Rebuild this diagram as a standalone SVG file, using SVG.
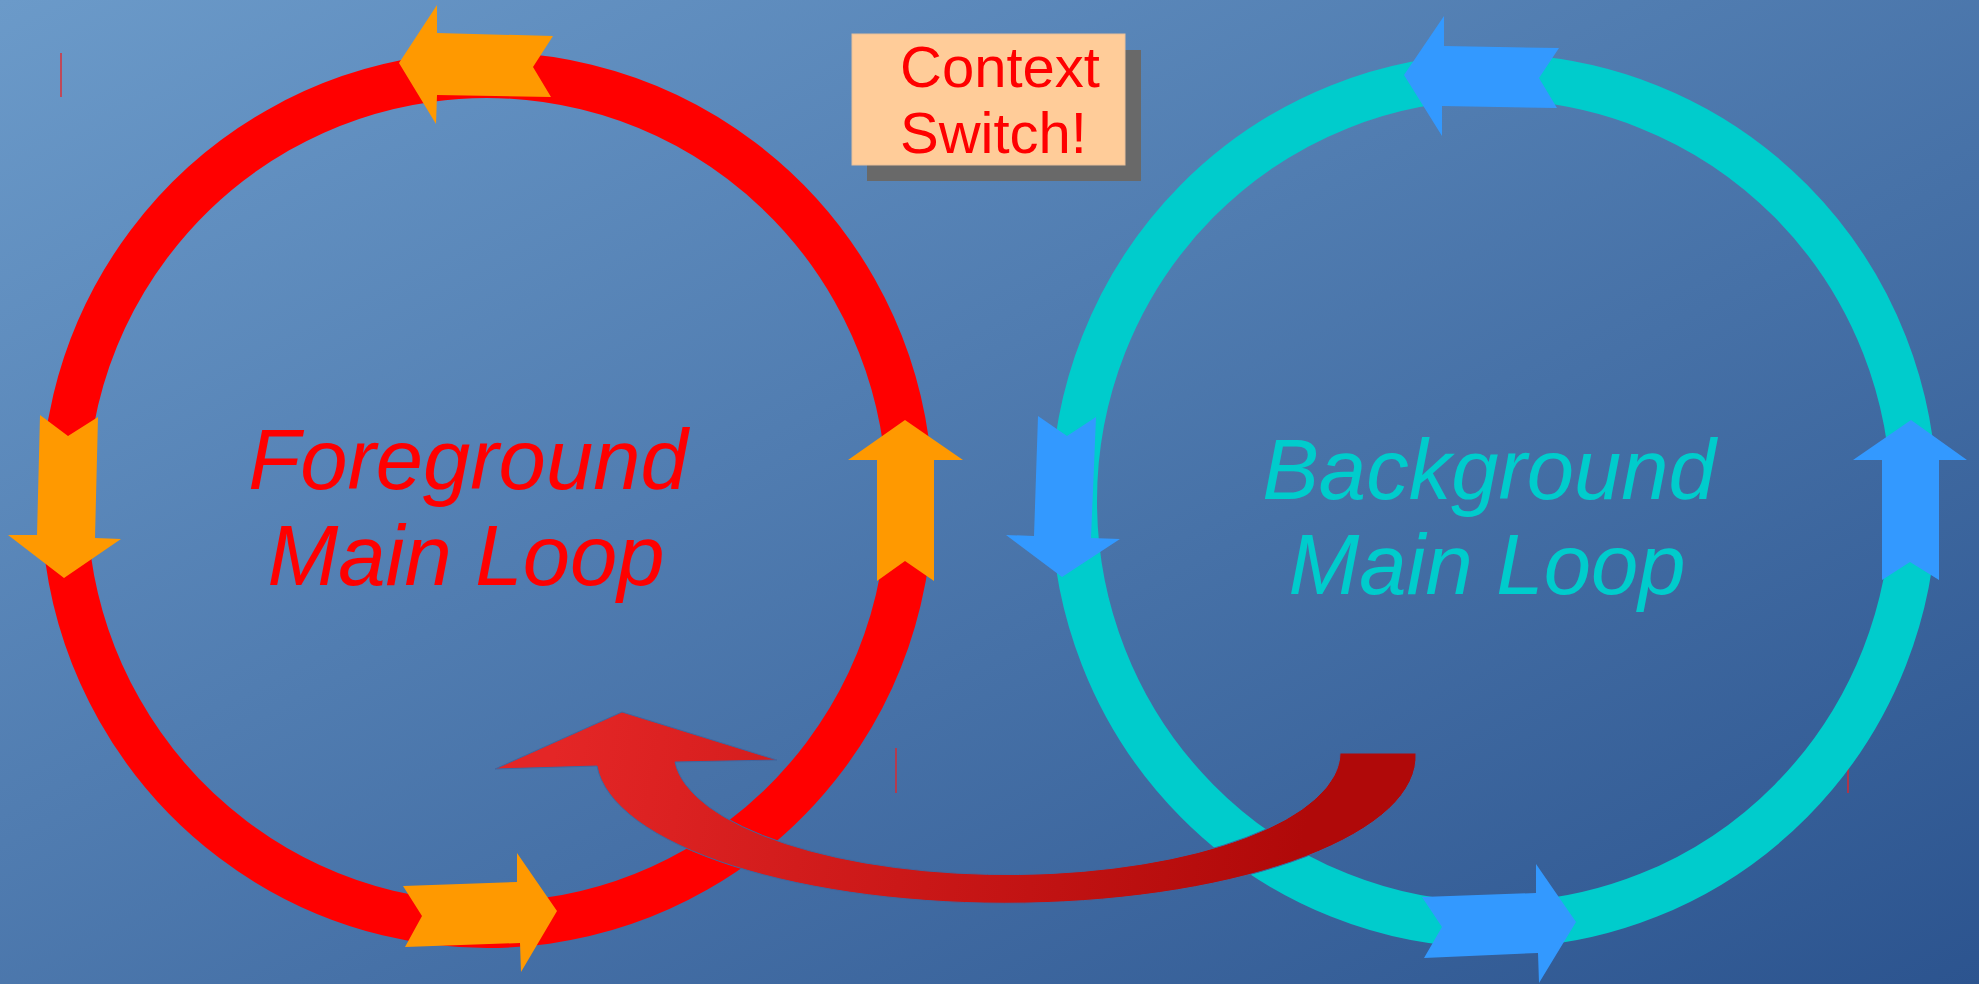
<svg xmlns="http://www.w3.org/2000/svg" width="1979" height="984" viewBox="0 0 1979 984">
<defs>
<linearGradient id="bg" x1="0" y1="0" x2="1" y2="1">
<stop offset="0" stop-color="#6B9AC9"/>
<stop offset="1" stop-color="#2C548F"/>
</linearGradient>
<linearGradient id="cs" gradientUnits="userSpaceOnUse" x1="560" y1="720" x2="1300" y2="860">
<stop offset="0" stop-color="#E42626"/>
<stop offset="1" stop-color="#B00909"/>
</linearGradient>
</defs>
<style>
.ring{fill:none;stroke-width:46}
.org{fill:#FF9900}
.blu{fill:#3399FF}
.lbl{font-family:"Liberation Sans",Arial,sans-serif;font-style:italic;font-size:85px;text-anchor:middle}
.cst{font-family:"Liberation Sans",Arial,sans-serif;font-size:58px;fill:#FF0000}
.tick{stroke:#F02020;stroke-width:1.3}
</style>
<rect x="0" y="0" width="1979" height="984" fill="url(#bg)"/>
<g id="ticks">
<line class="tick" x1="61" y1="53" x2="61" y2="97"/>
<line class="tick" x1="896" y1="748" x2="896" y2="793"/>
<line class="tick" x1="1848" y1="748" x2="1848" y2="793"/>
</g>
<g id="foreground-loop">
<ellipse class="ring" cx="487" cy="500" rx="423" ry="425" stroke="#FF0000" transform="rotate(-8 487 500)"/>
<polygon class="org" points="399,63 437,5 437,33 553,36 533,67 551,97 437,95 436,124"/>
<polygon class="org" points="905,420 963,460 934,460 934,581 905,561 877,581 877,460 848,460"/>
<polygon class="org" points="40,415 68,436 98,417 95,538 121,539 64,578 8,535 37,535"/>
<polygon class="org" points="403,886 517,882 517,853 557,911 521,972 520,943 405,947 422,916"/>
<text class="lbl" fill="#FF0000"><tspan x="468" y="489">Foreground</tspan><tspan x="466" y="585">Main Loop</tspan></text>
</g>
<g id="background-loop">
<ellipse class="ring" cx="1494" cy="501" rx="420" ry="424" stroke="#00CCCC"/>
<polygon class="blu" points="1404,75 1444,16 1444,46 1559,48 1539,78 1557,108 1442,106 1442,136"/>
<polygon class="blu" points="1911,420 1967,460 1939,460 1939,580 1910,562 1882,580 1882,460 1853,460"/>
<polygon class="blu" points="1038,416 1067,436 1096,417 1091,538 1120,539 1062,577 1006,535 1034,536"/>
<polygon class="blu" points="1422,897 1536,893 1536,864 1576,922 1539,983 1538,953 1424,958 1442,927"/>
<text class="lbl" fill="#00CCCC"><tspan x="1489" y="499">Background</tspan><tspan x="1487" y="594">Main Loop</tspan></text>
</g>
<g id="connectors">
<path d="M1416,753 L1340,753 A333,122 0 0 1 675,762 L777,760 L622,712 L495,769 L597,766 A410,147 0 0 0 1416,753 Z" fill="url(#cs)" stroke="#3F67A0" stroke-width="1"/>
</g>
<g id="context-switch">
<rect x="867" y="50" width="274" height="131" fill="#696969"/>
<rect x="852" y="34" width="273" height="131" fill="#FFCC99" stroke="#E8C09A" stroke-width="1"/>
<text class="cst"><tspan x="900" y="87">Context</tspan><tspan x="900" y="153">Switch!</tspan></text>
</g>
</svg>
